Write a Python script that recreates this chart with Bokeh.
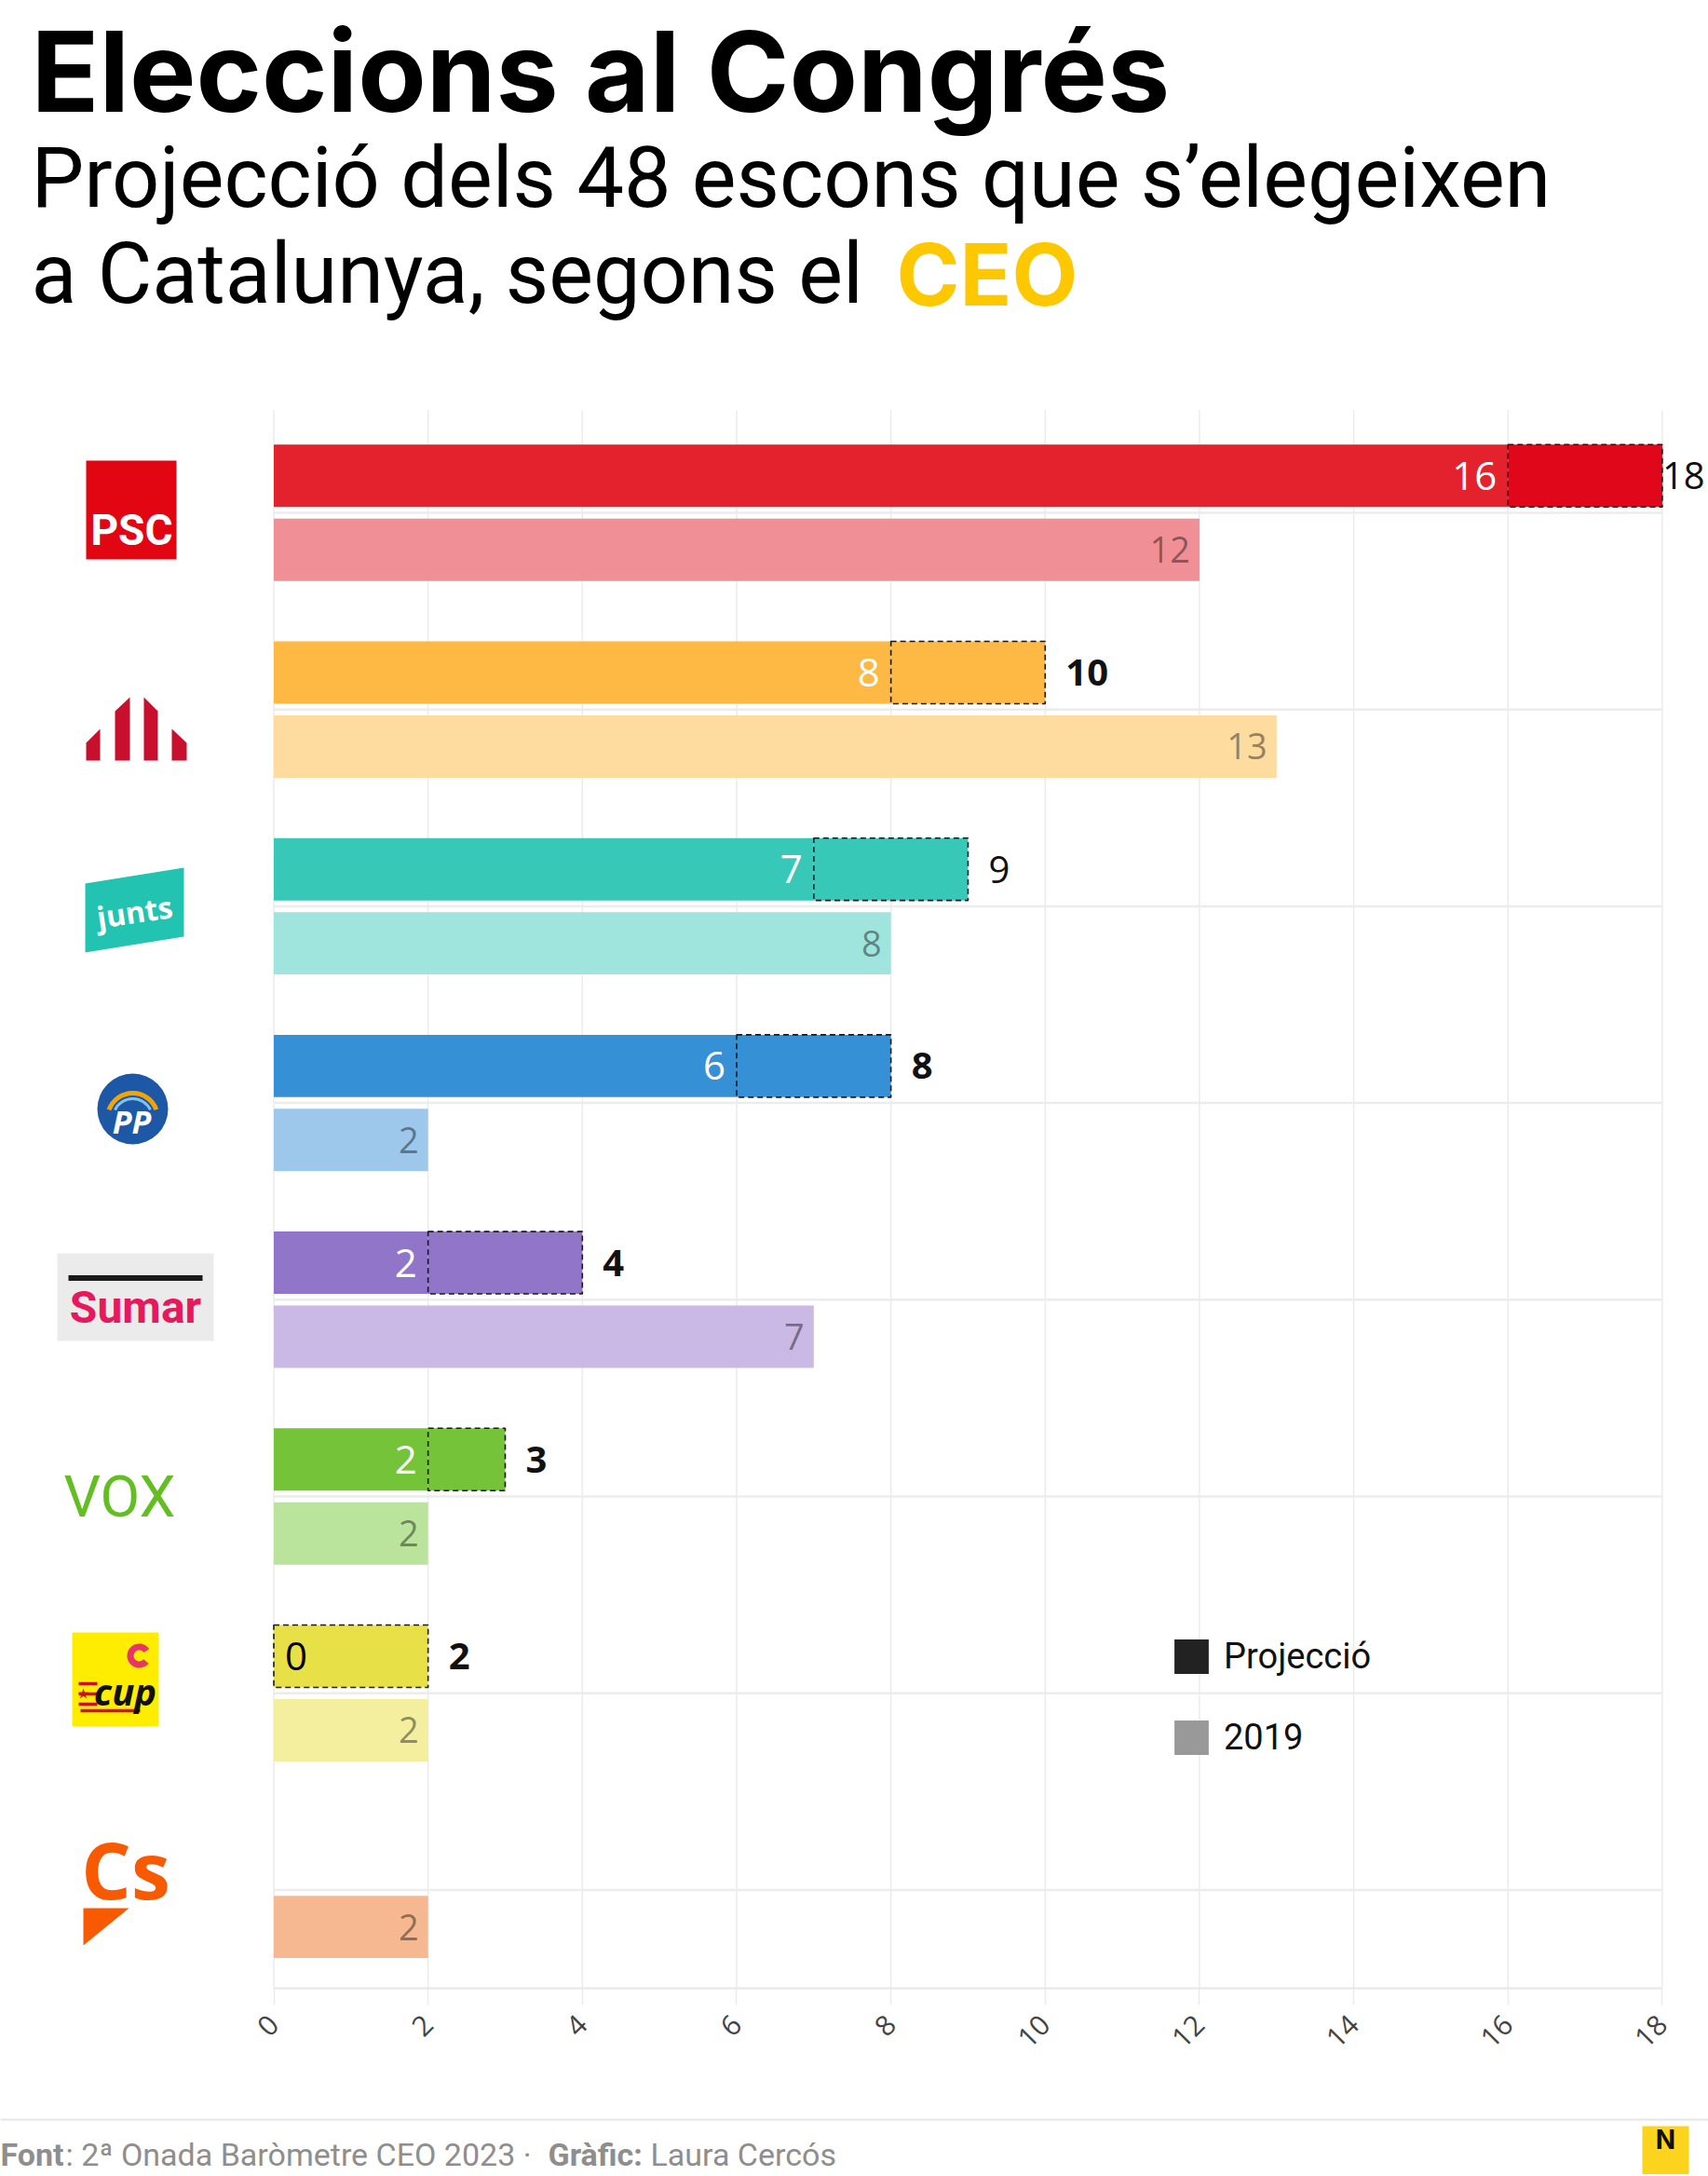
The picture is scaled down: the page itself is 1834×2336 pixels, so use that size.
import math
from bokeh.plotting import figure
from bokeh.layouts import column
from bokeh.models import (Range1d, FixedTicker, Label, Legend, LegendItem,
                          ColumnDataSource)
from bokeh.core.properties import value
from bokeh.embed import file_html
from bokeh.resources import INLINE

# ---------------- data ----------------
parties = ["PSC", "ERC", "Junts", "PP", "Sumar", "Vox", "CUP", "Cs"]
proj_min = [16, 8, 7, 6, 2, 2, 0, 0]
proj_max = [18, 10, 9, 8, 4, 3, 2, 0]
seats_2019 = [12, 13, 8, 2, 7, 2, 2, 2]
x_ticks = [0, 2, 4, 6, 8, 10, 12, 14, 16, 18]
tick_labels = ["0", "2", "4", "6", "8", "10", "12", "14", "16", "18"]

proj_colors = ["#e3222e", "#fdb943", "#38c8b8", "#3590d6", "#9175c9", "#74c339", "#e8e047", "#f7b88f"]
range_colors = ["#e0071a", "#fdb943", "#38c8b8", "#3590d6", "#9175c9", "#74c339", "#e8e047", "#f7b88f"]
past_colors = ["#f09096", "#fedca0", "#9fe5dd", "#9dc8eb", "#c9b9e4", "#bae39c", "#f4ef9f", "#f6b890"]

# ---------------- geometry (page pixels) ----------------
W = 1834
H_MAIN = 2270
H_FOOT = 64
X_ZERO, PX_PER_SEAT = 293.5, 82.83
Y_FIRST, PX_PER_ROW = 550.0, 211.2
FRAME_BOTTOM = 2134
BAR_H = 0.317
OFF = 0.188


def xd(px):
    return (px - X_ZERO) / PX_PER_SEAT


def yd(py):
    return (py - Y_FIRST) / PX_PER_ROW


p = figure(width=W, height=H_MAIN,
           x_range=Range1d(xd(0), xd(W)),
           y_range=Range1d(yd(FRAME_BOTTOM), yd(0)),
           output_backend="svg", toolbar_location=None,
           y_axis_location=None,
           min_border_left=0, min_border_right=0, min_border_top=0,
           min_border_bottom=H_MAIN - FRAME_BOTTOM)
p.outline_line_color = None
p.grid.visible = False
p.background_fill_color = "white"
p.border_fill_color = "white"

rows = list(range(len(parties)))

# ---------------- grid ----------------
p.segment(x0=x_ticks, x1=x_ticks, y0=[yd(440)] * len(x_ticks), y1=[yd(FRAME_BOTTOM)] * len(x_ticks),
          line_color="#ebebeb", line_width=1.5)
p.segment(x0=[0] * len(rows), x1=[x_ticks[-1]] * len(rows), y0=rows, y1=rows,
          line_color="#ececec", line_width=2.5)

# ---------------- bars ----------------
keep = [i for i in rows if proj_max[i] > 0]
proj_src = ColumnDataSource(dict(
    y=[i - OFF for i in keep],
    lo=[proj_min[i] for i in keep],
    hi=[proj_max[i] for i in keep],
    c=[proj_colors[i] for i in keep],
    rc=[range_colors[i] for i in keep],
    lo_txt=[str(proj_min[i]) for i in keep],
    hi_txt=[str(proj_max[i]) for i in keep],
    lo_col=["white" if proj_min[i] > 0 else "black" for i in keep],
    lo_align=["right" if proj_min[i] > 0 else "left" for i in keep],
    lo_off=[-12 if proj_min[i] > 0 else 12 for i in keep],
    hi_off=[0 if proj_max[i] >= x_ticks[-1] else 22 for i in keep],
    hi_style=["normal" if proj_max[i] in (18, 9) else "bold" for i in keep],
))
past_src = ColumnDataSource(dict(
    y=[i + OFF for i in rows],
    v=seats_2019,
    c=past_colors,
    txt=[str(v) for v in seats_2019],
))

p.hbar(y="y", left=0, right="lo", height=BAR_H, fill_color="c", line_color=None, source=proj_src)
p.hbar(y="y", left="lo", right="hi", height=BAR_H, fill_color="rc", line_color="#1a1a1a",
       line_dash="6 4", line_width=1.6, source=proj_src)
p.hbar(y="y", left=0, right="v", height=BAR_H, fill_color="c", line_color=None, source=past_src)

p.text(x="lo", y="y", text="lo_txt", text_color="lo_col", text_align="lo_align",
       x_offset="lo_off", text_baseline="middle", text_font=value("Open Sans"),
       text_font_size="42px", source=proj_src)
p.text(x="hi", y="y", text="hi_txt", text_color="#111111", text_align="left",
       x_offset="hi_off", text_baseline="middle", text_font=value("Open Sans"),
       text_font_style="hi_style", text_font_size="40px", source=proj_src)
p.text(x="v", y="y", text="txt", text_color="#000000", text_alpha=0.42, text_align="right",
       x_offset=-10, text_baseline="middle", text_font=value("Open Sans"),
       text_font_size="38px", source=past_src)

# ---------------- axis ----------------
ax = p.xaxis[0]
ax.ticker = FixedTicker(ticks=x_ticks)
ax.major_label_overrides = {t: l for t, l in zip(x_ticks, tick_labels)}
ax.bounds = (x_ticks[0], x_ticks[-1])
ax.axis_line_color = "#e6e6e6"
ax.axis_line_width = 2
ax.major_tick_out = 18
ax.major_tick_in = 0
ax.major_tick_line_color = "#ebebeb"
ax.major_tick_line_width = 1.5
ax.minor_tick_line_color = None
ax.major_label_orientation = math.pi / 4
ax.major_label_text_font = "Open Sans"
ax.major_label_text_font_size = "30px"
ax.major_label_text_color = "#444444"
ax.major_label_standoff = 16

# ---------------- logos ----------------
# PSC
p.rect(x=[xd(140.5)], y=[yd(547)], width=97, height=106, width_units="screen", height_units="screen",
       fill_color="#e20613", line_color=None)
p.text(x=[xd(141)], y=[yd(568)], text=["PSC"], text_color="white", text_align="center",
       text_baseline="middle", text_font=value("Roboto"), text_font_style="bold", text_font_size="46px")
# ERC
erc_xs = [[92, 92, 107, 107], [123, 123, 139, 139], [154, 154, 169, 169], [184, 184, 200, 200]]
erc_ys = [[816, 797, 782, 816], [816, 763, 748, 816], [816, 748, 763, 816], [816, 782, 797, 816]]
p.patches(xs=[[xd(v) for v in a] for a in erc_xs], ys=[[yd(v) for v in a] for a in erc_ys],
          fill_color="#c8102e", line_color=None)
# Junts
p.patch(x=[xd(v) for v in [91, 197, 197, 91]], y=[yd(v) for v in [948, 931, 1005, 1022]],
        fill_color="#22c3b1", line_color=None)
p.text(x=[xd(144)], y=[yd(978)], text=["junts"], text_color="white", text_align="center",
       text_baseline="middle", angle=0.15, text_font=value("Open Sans"), text_font_style="bold",
       text_font_size="32px")
# PP
p.scatter(x=[xd(142)], y=[yd(1190)], size=76, marker="circle", fill_color="#1c58a6", line_color=None)
p.arc(x=[xd(142)], y=[yd(1200)], radius=27, radius_units="screen", start_angle=0.35, end_angle=2.8,
      line_color="#f5a300", line_width=5)
p.arc(x=[xd(142)], y=[yd(1200)], radius=21, radius_units="screen", start_angle=0.45, end_angle=2.7,
      line_color="#7fc4ef", line_width=3)
p.text(x=[xd(141)], y=[yd(1203)], text=["PP"], text_color="white", text_align="center",
       text_baseline="middle", text_font=value("Open Sans"), text_font_style="bold italic",
       text_font_size="34px")
# Sumar
p.rect(x=[xd(145)], y=[yd(1392)], width=168, height=94, width_units="screen", height_units="screen",
       fill_color="#ebebeb", line_color=None)
p.rect(x=[xd(145)], y=[yd(1371.5)], width=144, height=6, width_units="screen", height_units="screen",
       fill_color="#1a1a1a", line_color=None)
p.text(x=[xd(145)], y=[yd(1403)], text=["Sumar"], text_color="#e6195f", text_align="center",
       text_baseline="middle", text_font=value("Roboto"), text_font_style="bold",
       text_font_size="48px")
# Vox
p.text(x=[xd(128)], y=[yd(1606)], text=["VOX"], text_color="#63be21", text_align="center",
       text_baseline="middle", text_font=value("Roboto"), text_font_size="62px")
# CUP
p.rect(x=[xd(123.5)], y=[yd(1802.5)], width=93, height=101, width_units="screen", height_units="screen",
       fill_color="#ffed00", line_color=None)
p.annular_wedge(x=[xd(149)], y=[yd(1777)], inner_radius=6, outer_radius=13, inner_radius_units="screen",
                outer_radius_units="screen", start_angle=0.6, end_angle=5.6, fill_color="#e8336b",
                line_color=None)
p.segment(x0=[xd(84)] * 3, x1=[xd(104)] * 3, y0=[yd(1807), yd(1818), yd(1829)],
          y1=[yd(1807), yd(1818), yd(1829)], line_color="#c8102e", line_width=3.5)
p.segment(x0=[xd(86)], x1=[xd(150)], y0=[yd(1836)], y1=[yd(1836)], line_color="#c8102e", line_width=3.5)
p.scatter(x=[xd(89)], y=[yd(1818)], size=12, marker="star", fill_color="#c8102e", line_color=None)
p.text(x=[xd(134)], y=[yd(1815)], text=["cup"], text_color="#111111", text_align="center",
       text_baseline="middle", text_font=value("Open Sans"), text_font_style="bold italic",
       text_font_size="40px")
# Cs
p.text(x=[xd(134.5)], y=[yd(2006)], text=["Cs"], text_color="#f75a00", text_align="center",
       text_baseline="middle", text_font=value("Open Sans"), text_font_style="bold",
       text_font_size="84px")
p.patch(x=[xd(v) for v in [89, 138, 89]], y=[yd(v) for v in [2048, 2048, 2088]],
        fill_color="#f75a00", line_color=None)

# ---------------- legend ----------------
r_proj = p.hbar(y=[100], left=[0], right=[1], height=0.1, fill_color="#222222", line_color=None)
r_past = p.hbar(y=[100], left=[0], right=[1], height=0.1, fill_color="#999999", line_color=None)
legend = Legend(items=[LegendItem(label="Projecció", renderers=[r_proj]),
                       LegendItem(label="2019", renderers=[r_past])],
                location=(1256, FRAME_BOTTOM - 1888), glyph_width=46, glyph_height=46,
                label_height=46, spacing=41, padding=0, margin=0, label_standoff=12,
                label_text_font="Roboto", label_text_font_size="38px",
                label_text_color="#111111", border_line_color=None, background_fill_alpha=0)
p.add_layout(legend)


# ---------------- titles ----------------
def label(fig, bottom, text, px, baseline, size, font="Roboto", style="normal", color="#000000"):
    fig.add_layout(Label(x=px, y=bottom - (baseline - 0.34 * size), x_units="screen", y_units="screen",
                         text=text, text_font=font, text_font_size=f"{size}px",
                         text_font_style=style, text_color=color,
                         text_baseline="middle", text_align="left"))


label(p, FRAME_BOTTOM, "Eleccions al Congrés", 33, 117, 120, font="Inter", style="bold")
label(p, FRAME_BOTTOM, "Projecció dels 48 escons que s\u2019elegeixen", 33, 222, 90)
label(p, FRAME_BOTTOM, "a Catalunya, segons el", 33, 325, 90)
label(p, FRAME_BOTTOM, "CEO", 962, 325, 92, font="Inter", style="bold", color="#fdc800")

# ---------------- footer ----------------
f = figure(width=W, height=H_FOOT, x_range=Range1d(0, W), y_range=Range1d(0, H_FOOT),
           output_backend="svg", toolbar_location=None, x_axis_location=None, y_axis_location=None,
           min_border_left=0, min_border_right=0, min_border_top=0, min_border_bottom=0)
f.outline_line_color = None
f.grid.visible = False
f.segment(x0=[0], x1=[W], y0=[H_FOOT - 5], y1=[H_FOOT - 5], line_color="#e6e6e6", line_width=2)
f.rect(x=[1788], y=[26], width=50, height=52, fill_color="#fcd41d", line_color=None)
f.text(x=[1788], y=[38], text=["N"], text_color="#111111", text_align="center", text_baseline="middle",
       text_font=value("Inter"), text_font_style="bold", text_font_size="28px")
foot_parts = [("Font", 0, "bold"), (": 2ª Onada Baròmetre CEO 2023 ·", 70, "normal"),
              ("Gràfic:", 588, "bold"), ("Laura Cercós", 698, "normal")]
for txt, fx, st in foot_parts:
    f.text(x=[fx], y=[22], text=[txt], text_color="#8e8e8e", text_align="left",
           text_baseline="alphabetic", text_font=value("Roboto"), text_font_style=st,
           text_font_size="34px")

open("out.html", "w").write(file_html(column(p, f, spacing=0), INLINE))
